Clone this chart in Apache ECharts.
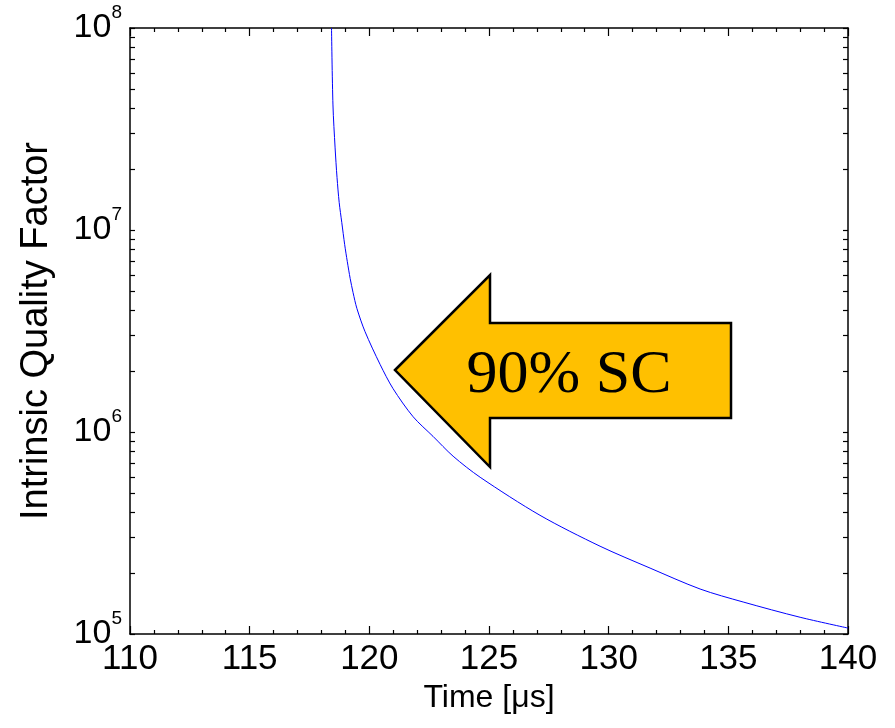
<!DOCTYPE html>
<html>
<head>
<meta charset="utf-8">
<script src="https://cdn.jsdelivr.net/npm/echarts@6/dist/echarts.min.js"></script>
<style>html,body{margin:0;padding:0;background:#fff}#c{width:895px;height:728px}</style>
</head>
<body>
<div id="c"></div>
<script>
// Time in microseconds
const timeUs = [118.42, 118.48, 118.57, 118.65, 118.74, 118.85, 118.97, 119.08, 119.20, 119.32, 119.48, 119.82, 120.45, 120.99, 121.83, 122.66, 123.50, 124.63, 127.13, 129.64, 131.73, 133.82, 135.62, 138.00, 140.00];
// Intrinsic quality factor
const qFactor = [1.0e8, 4.16e7, 2.55e7, 1.82e7, 1.37e7, 1.087e7, 8.46e6, 6.97e6, 5.75e6, 4.90e6, 4.09e6, 3.14e6, 2.16e6, 1.64e6, 1.19e6, 9.52e5, 7.59e5, 5.97e5, 3.87e5, 2.72e5, 2.12e5, 1.67e5, 1.44e5, 1.21e5, 1.07e5];
const xTicks = [110, 115, 120, 125, 130, 135, 140];
const yDecades = [1e5, 1e6, 1e7, 1e8];
const yMinorTicks = [];
for (let d = 0; d < yDecades.length - 1; d++) for (let m = 1; m < 10; m++) yMinorTicks.push(m * yDecades[d]);
yMinorTicks.push(yDecades[yDecades.length - 1]);
const annotationText = '90% SC';

const chart = echarts.init(document.getElementById('c'), null, {renderer: 'canvas'});
const FONT = 'Liberation Sans, Arial, sans-serif';
function xAxisDef(pos, extra) {
  return Object.assign({
    type: 'value', position: pos, min: xTicks[0], max: xTicks[xTicks.length - 1], interval: 5,
    axisLine: {show: true, onZero: false, lineStyle: {color: '#000', width: 1.5}},
    axisTick: {show: true, inside: true, length: 8, lineStyle: {color: '#000', width: 1.2}},
    minorTick: {show: true, splitNumber: 5, length: 4, lineStyle: {color: '#000', width: 1.2}},
    splitLine: {show: false}, minorSplitLine: {show: false}
  }, extra);
}
function yAxisDef(pos, extra) {
  return Object.assign({
    type: 'log', logBase: 10, position: pos, min: yDecades[0], max: yDecades[yDecades.length - 1],
    axisLine: {show: true, onZero: false, lineStyle: {color: '#000', width: 1.5}},
    axisTick: {show: true, inside: true, length: 5, customValues: yMinorTicks, lineStyle: {color: '#000', width: 1.2}},
    splitLine: {show: false}
  }, extra);
}
chart.setOption({
  animation: false,
  backgroundColor: '#fff',
  grid: {left: 130, right: 47, top: 28, bottom: 94, containLabel: false},
  xAxis: [
    xAxisDef('bottom', {
      name: 'Time [\u03bcs]', nameLocation: 'middle', nameGap: 44,
      nameTextStyle: {fontFamily: FONT, fontSize: 32, color: '#000'},
      axisLabel: {show: true, margin: 8, fontFamily: FONT, fontSize: 35, color: '#000', formatter: v => String(v)}
    }),
    xAxisDef('top', {axisLabel: {show: false}})
  ],
  yAxis: [
    yAxisDef('left', {
      name: 'Intrinsic Quality Factor', nameLocation: 'middle', nameGap: 74, nameRotate: 90,
      nameTextStyle: {fontFamily: FONT, fontSize: 38, color: '#000'},
      axisLabel: {
        show: true, margin: 8, customValues: yDecades,
        formatter: v => '{b|10}{s|' + Math.round(Math.log10(v)) + '}',
        rich: {
          b: {fontFamily: FONT, fontSize: 34, color: '#000', lineHeight: 50},
          s: {fontFamily: FONT, fontSize: 19, color: '#000', lineHeight: 19, verticalAlign: 'top'}
        }
      }
    }),
    yAxisDef('right', {axisLabel: {show: false}})
  ],
  series: [{
    type: 'line',
    data: timeUs.map((t, i) => [t, qFactor[i]]),
    showSymbol: false, symbol: 'none', smooth: 0.3,
    lineStyle: {color: '#0000ff', width: 1},
    clip: true
  }],
  graphic: [
    {
      type: 'polygon', z: 100,
      shape: {points: [[395, 370], [490, 275], [490, 323], [731, 323], [731, 418], [490, 418], [490, 467]]},
      style: {fill: '#FFC000', stroke: '#000', lineWidth: 2.5, lineJoin: 'miter'}
    },
    {
      type: 'text', z: 101, x: 569, y: 376,
      style: {text: annotationText, fill: '#000', font: '62px "Liberation Serif", "Times New Roman", serif',
        textAlign: 'center', textVerticalAlign: 'middle'}
    }
  ]
});
</script>
</body>
</html>
